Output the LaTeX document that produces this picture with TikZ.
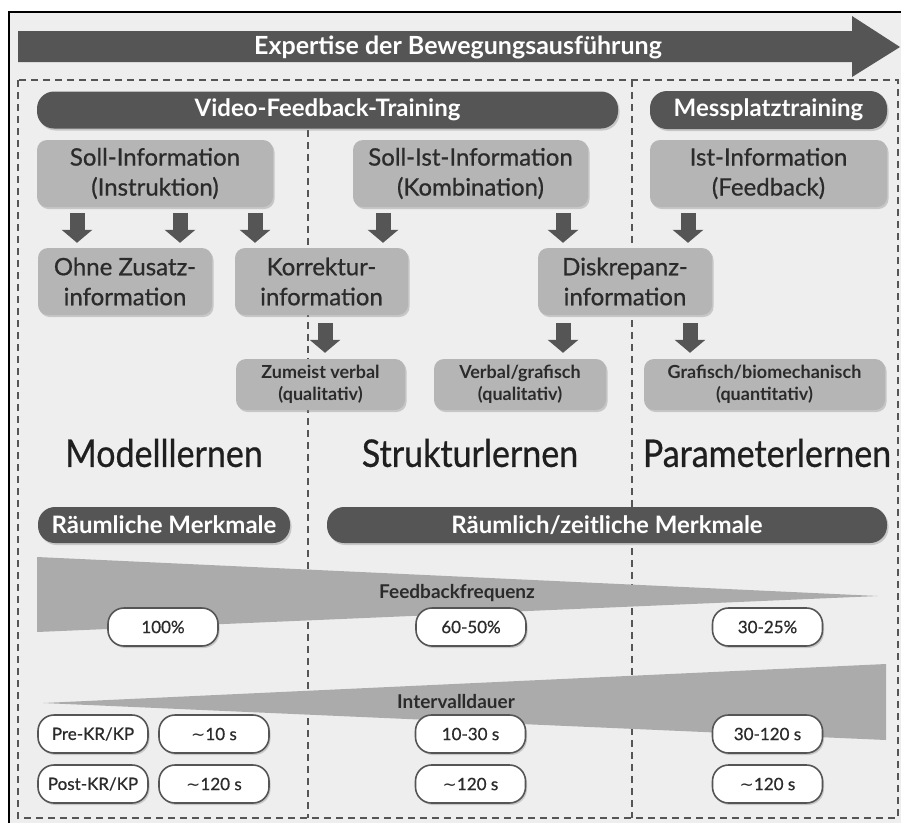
\documentclass[tikz,border=0pt]{standalone}
\usepackage{fontspec}
\setmainfont{Lato}
\newfontfamily\latomed[FakeBold=0.7]{Lato}
\newfontfamily\dejavu{DejaVu Sans}
\usetikzlibrary{arrows.meta,shadows,calc}
\definecolor{bardark}{HTML}{555555}
\definecolor{boxgray}{HTML}{B5B5B5}
\definecolor{wedgegray}{HTML}{ABABAB}
\definecolor{bggray}{HTML}{EEEEEE}
\definecolor{textdark}{HTML}{2B2B2B}
\definecolor{dashgray}{HTML}{555555}
\newcommand{\tld}{{\dejavu ∼}}
\newcommand{\tall}[1]{\scalebox{1}[1.12]{#1}}
\begin{document}
\begin{tikzpicture}[x=1pt,y=-1pt,
  shad/.style={drop shadow={opacity=0.35,shadow xshift=1.5pt,shadow yshift=-2pt}},
  darkbar/.style={fill=bardark,rounded corners=17pt,text=white,inner sep=0pt,
    font=\bfseries\fontsize{24}{28}\selectfont,shad},
  graybox/.style={fill=boxgray,rounded corners=10pt,text=textdark,align=center,inner sep=0pt,
    minimum height=67pt,font=\latomed\fontsize{24}{30}\selectfont,shad},
  smallbox/.style={graybox,minimum height=51pt,font=\bfseries\fontsize{18}{22}\selectfont},
  pill/.style={fill=white,draw=bardark,line width=1.6pt,rounded corners=16pt,text=textdark,
    minimum width=110pt,minimum height=38pt,inner sep=0pt,font=\latomed\fontsize{17}{20}\selectfont,shad},
  bigtext/.style={font=\latomed\fontsize{34}{40}\selectfont,text=black!88},
  wedgelabel/.style={font=\bfseries\fontsize{19}{22}\selectfont,text=textdark},
  blk/.style={draw=bardark,line width=15pt,-{Triangle[width=30pt,length=13pt]}},
  dashline/.style={draw=dashgray,line width=2pt,dash pattern=on 7pt off 5pt}
]
\useasboundingbox (0,0) rectangle (901,823);
% background and frame
\fill[bggray] (9,12) rectangle (901,823);
\draw[black,line width=1.6pt] (9,823) -- (9,12) -- (901,12);
% big arrow
\fill[bardark] (18,31) -- (852,31) -- (852,16) -- (900,47) -- (852,77) -- (852,62) -- (18,62) -- cycle;
\node[text=white,font=\bfseries\fontsize{25}{28}\selectfont] (expertise) at (458,47) {Expertise der Bewegungsausführung};
% dashed frame and separators
\draw[dashline] (18,80) rectangle (898,818);
\coordinate (sepAtop) at (308,130);
\coordinate (sepAbot) at (308,818);
\coordinate (sepBtop) at (632,80);
\coordinate (sepBbot) at (632,818);
\draw[dashline] (sepAtop) -- (sepAbot);
\draw[dashline] (sepBtop) -- (sepBbot);
% wedges
\fill[wedgegray] (37,557) -- (878,596) -- (37,632) -- cycle;
\fill[wedgegray] (43,703) -- (886,664) -- (886,740) -- cycle;
\node[wedgelabel] (ffreq) at (457,593) {Feedbackfrequenz};
\node[wedgelabel] (idauer) at (456,702) {Intervalldauer};
% top bars
\node[darkbar,minimum width=581pt,minimum height=37pt] (vft) at (327.5,110) {Video-Feedback-Training};
\node[darkbar,minimum width=237pt,minimum height=38pt] (mess) at (768.5,110) {Messplatztraining};
% information boxes
\node[graybox,minimum width=236pt] (soll) at (155,173.5) {Soll-Information\\(Instruktion)};
\node[graybox,minimum width=235pt] (sollist) at (470.5,173.5) {Soll-Ist-Information\\(Kombination)};
\node[graybox,minimum width=237pt] (ist) at (768.5,173.5) {Ist-Information\\(Feedback)};
\node[graybox,minimum width=174pt] (ohne) at (125,281.5) {Ohne Zusatz-\\information};
\node[graybox,minimum width=173pt] (korr) at (321.5,281.5) {Korrektur-\\information};
\node[graybox,minimum width=174pt] (disk) at (625,281.5) {Diskrepanz-\\information};
\node[smallbox,minimum width=169pt] (zum) at (320.5,384.5) {Zumeist verbal\\(qualitativ)};
\node[smallbox,minimum width=172pt] (verb) at (520,384.5) {Verbal/grafisch\\(qualitativ)};
\node[smallbox,minimum width=241pt] (graf) at (764.5,384.5) {Grafisch/biomechanisch\\(quantitativ)};
% arrows
\draw[blk] ($(soll.south)+(-78,6)$) -- ($(ohne.north)+(-48,-5)$);
\draw[blk] ($(soll.south)+(25,6)$) -- ($(ohne.north)+(55,-5)$);
\draw[blk] ($(soll.south)+(100,6)$) -- ($(korr.north)+(-66.5,-5)$);
\draw[blk] ($(sollist.south)+(-87.5,6)$) -- ($(korr.north)+(61.5,-5)$);
\draw[blk] ($(sollist.south)+(92.5,6)$) -- ($(disk.north)+(-62,-5)$);
\draw[blk] ($(ist.south)+(-80.5,6)$) -- ($(disk.north)+(63,-5)$);
\draw[blk] ($(korr.south)+(3.5,8)$) -- ($(zum.north)+(4.5,-6)$);
\draw[blk] ($(disk.south)+(-62,8)$) -- ($(verb.north)+(43,-6)$);
\draw[blk] ($(disk.south)+(65,8)$) -- ($(graf.north)+(-74.5,-6)$);
% learning types
\node[bigtext] (modell) at (164,453) {\tall{Modelllernen}};
\node[bigtext] (struktur) at (470,453) {\tall{Strukturlernen}};
\node[bigtext] (param) at (767,453) {\tall{Parameterlernen}};
% feature bars
\node[darkbar,minimum width=252pt,minimum height=36pt] (rm) at (164,525) {Räumliche Merkmale};
\node[darkbar,minimum width=560pt,minimum height=36pt] (rz) at (607,525) {Räumlich/zeitliche Merkmale};
% pills
\node[pill] (p100) at (163,627) {100\%};
\node[pill] (p6050) at (471,627) {60-50\%};
\node[pill] (p3025) at (767.5,627) {30-25\%};
\node[pill] (pre) at (93,734) {Pre-KR/KP};
\node[pill] (post) at (93,784) {Post-KR/KP};
\node[pill] (t10) at (214,734) {\tld10 s};
\node[pill] (t120a) at (214,784) {\tld120 s};
\node[pill] (t1030) at (470.5,734) {10-30 s};
\node[pill] (t120b) at (470.5,784) {\tld120 s};
\node[pill] (t30120) at (767.5,734) {30-120 s};
\node[pill] (t120c) at (767.5,784) {\tld120 s};
\end{tikzpicture}
\end{document}
